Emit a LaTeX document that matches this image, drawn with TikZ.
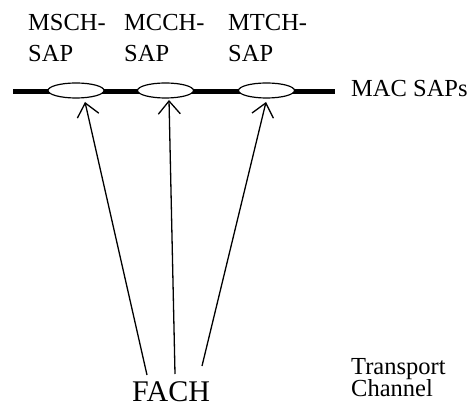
\documentclass[tikz,border=0pt]{standalone}
\usepackage{fontspec}
\setmainfont{Liberation Serif}
\usetikzlibrary{shapes.geometric,arrows.meta}
\begin{document}
\begin{tikzpicture}[x=1pt,y=1pt,
  lbl/.style={anchor=base west,inner sep=0pt,font=\fontsize{24.5}{25}\selectfont},
  big/.style={anchor=base west,inner sep=0pt,text depth=0pt,font=\fontsize{30}{31}\selectfont},
  sap/.style={ellipse,draw,fill=white,line width=1.2pt,minimum width=56pt,minimum height=15pt,inner sep=0pt},
  conn/.style={line width=1.3pt,-{Straight Barb[length=13pt,width=22pt,line width=1.3pt]}}]
\useasboundingbox (0,0) rectangle (473,407);
% labels
\node[lbl] (l1a) at (28,376) {MSCH-};
\node[lbl] (l1b) at (28,345) {SAP};
\node[lbl] (l2a) at (124,376) {MCCH-};
\node[lbl] (l2b) at (124,345) {SAP};
\node[lbl] (l3a) at (228,376) {MTCH-};
\node[lbl] (l3b) at (228,345) {SAP};
\node[lbl] (mac) at (351,310) {MAC SAPs};
\node[lbl] (tr1) at (351,33) {Transport};
\node[lbl] (tr2) at (351,10.5) {Channel};
\node[big] (fach) at (132,5.5) {FACH};
% bar
\coordinate (barL) at (13,315);
\coordinate (barR) at (335,315);
\draw[line width=5pt] (barL) -- (barR);
\node[sap] (e1) at (76,316.5) {};
\node[sap] (e2) at (165.5,316.5) {};
\node[sap] (e3) at (266.5,316.5) {};
% connector ends
\coordinate (f1) at (147,32);
\coordinate (f2) at (175,33);
\coordinate (f3) at (202,41);
\coordinate (t1) at (85,305);
\coordinate (t2) at (169,307);
\coordinate (t3) at (266,305);
\draw[conn] (f1) -- (t1);
\draw[conn] (f2) -- (t2);
\draw[conn] (f3) -- (t3);
\end{tikzpicture}
\end{document}
